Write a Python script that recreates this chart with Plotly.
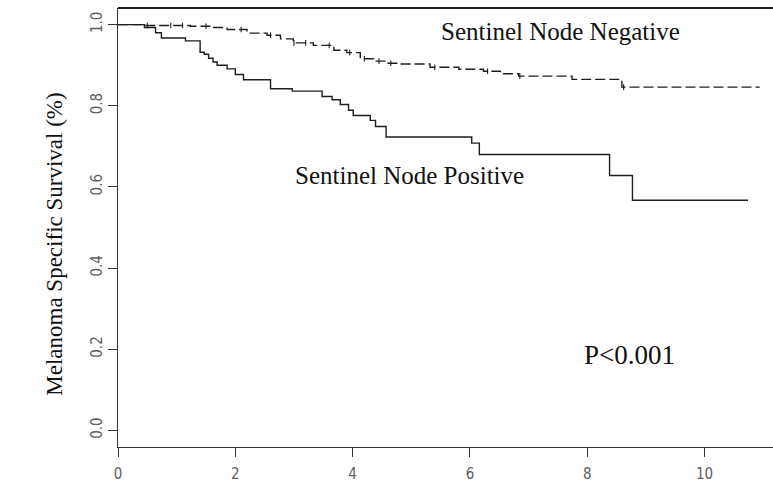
import numpy as np
import plotly.graph_objects as go

# Sentinel Node Positive (solid) – Kaplan-Meier steps
pos_time = [0, 0.45, 0.64, 0.74, 1.15, 1.40, 1.47, 1.545, 1.62, 1.69, 1.86, 2.00, 2.14,
            2.60, 2.97, 3.48, 3.65, 3.79, 3.93, 4.01, 4.30, 4.39, 4.57, 6.03, 6.16,
            8.38, 8.77, 10.74]
pos_surv = [1.0, 0.993, 0.980, 0.967, 0.960, 0.932, 0.927, 0.917, 0.908, 0.900, 0.891, 0.877, 0.864,
            0.842, 0.836, 0.823, 0.815, 0.803, 0.789, 0.776, 0.764, 0.749, 0.723, 0.708, 0.680,
            0.628, 0.567, 0.567]

# Sentinel Node Negative (dashed)
neg_time = [0, 0.44, 1.23, 1.63, 1.86, 2.20, 2.54, 2.77, 2.99, 3.33, 3.68, 3.90, 4.13, 4.36,
            4.59, 4.81, 5.32, 5.81, 6.23, 6.52, 6.83, 7.74, 8.59, 10.94]
neg_surv = [1.0, 0.998, 0.996, 0.993, 0.988, 0.979, 0.974, 0.965, 0.955, 0.949, 0.937, 0.931, 0.916,
            0.910, 0.905, 0.903, 0.895, 0.890, 0.885, 0.879, 0.873, 0.865, 0.846, 0.846]

# censoring times on the negative curve
neg_censor = [0.5, 0.9, 1.1, 1.5, 2.1, 2.6, 3.0, 3.2, 3.6, 3.95, 4.2, 4.45, 4.65, 5.4, 6.3, 6.85, 8.62]

x_ticks = [0, 2, 4, 6, 8, 10]
y_ticks = [0.0, 0.2, 0.4, 0.6, 0.8, 1.0]
y_ticklabels = ["0.0", "0.2", "0.4", "0.6", "0.8", "1.0"]

ink = "#1e1e1e"
tickfont = dict(family="Liberation Sans Narrow, Arial Narrow, DejaVu Sans Condensed, Roboto Condensed, Liberation Sans",
                size=15, color="#606060")

def step_value(times, surv, t):
    idx = np.searchsorted(np.array(times), t, side="right") - 1
    return np.array(surv)[idx]

fig = go.Figure()
fig.add_trace(go.Scatter(x=pos_time, y=pos_surv, mode="lines", line_shape="hv",
                         line=dict(color=ink, width=1.4), showlegend=False, hoverinfo="skip"))
fig.add_trace(go.Scatter(x=neg_time, y=neg_surv, mode="lines", line_shape="hv",
                         line=dict(color=ink, width=1.4, dash="10px,4px"), showlegend=False, hoverinfo="skip"))
fig.add_trace(go.Scatter(x=neg_censor, y=step_value(neg_time, neg_surv, neg_censor), mode="markers",
                         marker=dict(symbol="line-ns-open", size=4, color=ink,
                                     line=dict(color=ink, width=1.1)),
                         showlegend=False, hoverinfo="skip"))

serif = "Liberation Serif, Times New Roman, serif"
fig.add_annotation(x=7.54, y=0.983, xref="x", yref="y", text="Sentinel Node Negative", showarrow=False,
                   font=dict(family=serif, size=25, color="#111111"))
fig.add_annotation(x=4.97, y=0.629, xref="x", yref="y", text="Sentinel Node Positive", showarrow=False,
                   font=dict(family=serif, size=25, color="#111111"))
fig.add_annotation(x=8.72, y=0.185, xref="x", yref="y", text="P&lt;0.001", showarrow=False,
                   font=dict(family=serif, size=27, color="#111111"))
fig.add_annotation(x=-0.119, y=0.462, xref="paper", yref="paper", text="Melanoma Specific Survival (%)",
                   showarrow=False, textangle=-90,
                   font=dict(family=serif, size=23, color="#111111"))

# top border
fig.add_shape(type="line", xref="paper", yref="paper", x0=0, x1=1, y0=1, y1=1,
              line=dict(color=ink, width=2))

fig.update_layout(
    width=773, height=485,
    margin=dict(l=118, r=0, t=8, b=38),
    paper_bgcolor="white", plot_bgcolor="white",
    xaxis=dict(range=[0, 11.166], tickvals=x_ticks, ticks="outside", ticklen=9, tickwidth=1,
               tickcolor="#333333", showline=True, linecolor="#333333", linewidth=1.3,
               showgrid=False, zeroline=False, tickfont=tickfont, ticklabelstandoff=4),
    yaxis=dict(range=[-0.041, 1.041], tickvals=y_ticks, ticktext=y_ticklabels, ticks="outside",
               ticklen=9, tickwidth=1, tickcolor="#333333", showline=True, linecolor="#333333",
               linewidth=1.3, showgrid=False, zeroline=False, tickangle=-90, tickfont=tickfont),
)

fig.write_html("out.html", config={"displayModeBar": False},
               post_script="document.body.style.margin='0';document.body.style.padding='0';")
